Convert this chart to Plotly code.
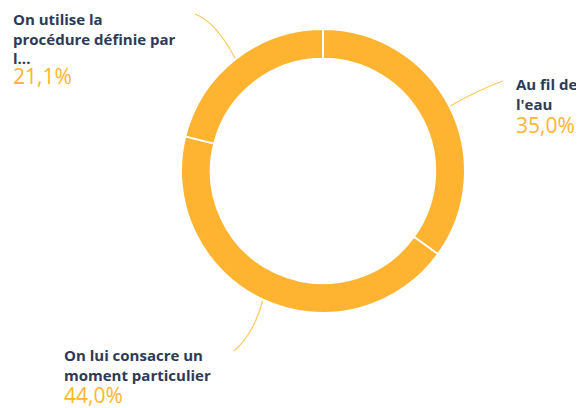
import math
import plotly.graph_objects as go

labels = ["Au fil de l'eau", "On lui consacre un moment particulier", "On utilise la procédure définie par l..."]
label_lines = [["Au fil de", "l'eau"],
               ["On lui consacre un", "moment particulier"],
               ["On utilise la", "procédure définie par", "l..."]]
values = [35.0, 44.0, 21.1]

# page has an 8px body margin, so work in window pixels and convert
OFF = 8
FW, FH = 576, 400
CX, CY, R = 323, 171, 142
ORANGE = "#FFB431"
NAVY = "#2C3A57"
LINE = "#FFC95E"


def px(x):
    return (x - OFF) / FW


def py(y):
    return 1 - (y - OFF) / FH


fig = go.Figure(go.Pie(
    labels=labels, values=values, sort=False, direction="clockwise",
    hole=0.79, textinfo="none", hoverinfo="label+percent",
    marker=dict(colors=[ORANGE] * len(values), line=dict(color="white", width=2)),
    domain=dict(x=[px(CX - R), px(CX + R)], y=[py(CY + R), py(CY - R)]),
    showlegend=False,
))

# label placement (window pixels) and leader line ends
label_pos = [(514, 72), (62, 343), (11, 7)]
pct_pos = [(514, 109), (62, 379), (11, 60)]
line_end = [(503, 81), (234, 351), (195, 14)]
line_ctrl = [(478, 90), (254, 334), (216, 22)]

total = sum(values)
start = 0.0
shapes = []
annotations = []
for i, v in enumerate(values):
    mid = start + v / total * 360 / 2
    start += v / total * 360
    a = math.radians(mid)
    x0 = CX + (R + 1) * math.sin(a)
    y0 = CY - (R + 1) * math.cos(a)
    ex, ey = line_end[i]
    qx, qy = line_ctrl[i]
    shapes.append(dict(
        type="path", xref="paper", yref="paper",
        path="M %f,%f Q %f,%f %f,%f" % (px(x0), py(y0), px(qx), py(qy), px(ex), py(ey)),
        line=dict(color=LINE, width=1.2),
    ))
    lx, ly = label_pos[i]
    annotations.append(dict(
        x=px(lx), y=py(ly), xref="paper", yref="paper", xanchor="left", yanchor="top",
        text="<br>".join(label_lines[i]), showarrow=False, align="left",
        font=dict(family="Open Sans", size=15, color=NAVY, weight="bold"),
    ))
    pct = ("%.1f" % v).replace(".", ",") + "%"
    qx2, qy2 = pct_pos[i]
    annotations.append(dict(
        x=px(qx2), y=py(qy2), xref="paper", yref="paper",
        xanchor="left", yanchor="top",
        text=pct, showarrow=False, align="left",
        font=dict(family="Open Sans", size=21, color=ORANGE),
    ))

fig.update_layout(
    width=FW, height=FH, margin=dict(l=0, r=0, t=0, b=0),
    paper_bgcolor="white", plot_bgcolor="white",
    shapes=shapes, annotations=annotations,
)

fig.write_html("out.html")
